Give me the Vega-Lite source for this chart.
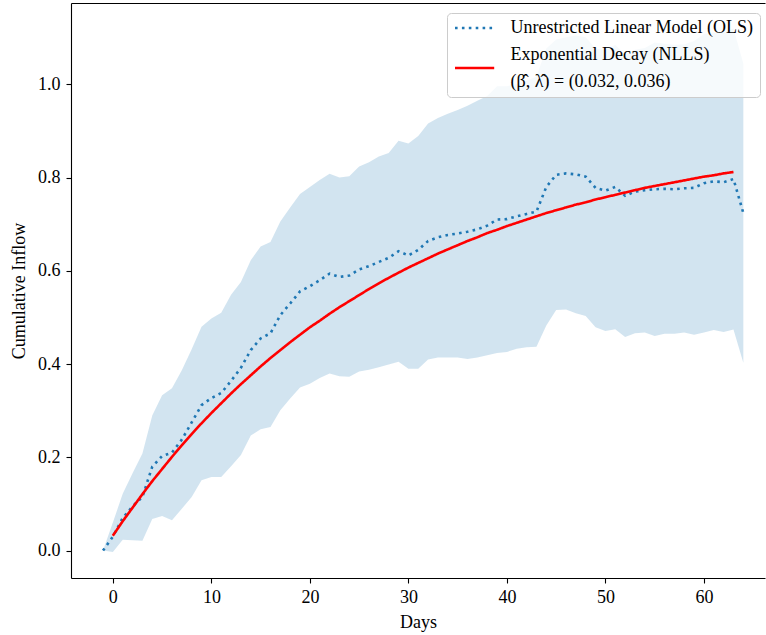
{
  "$schema": "https://vega.github.io/schema/vega-lite/v6.json",
  "width": 694,
  "height": 575,
  "autosize": {"type": "none"},
  "padding": {"left": 71, "top": 3, "right": 1, "bottom": 57},
  "config": {
    "font": "Liberation Serif",
    "view": {"stroke": null},
    "axis": {
      "grid": false,
      "domainColor": "#000000",
      "domainWidth": 1.1,
      "tickColor": "#000000",
      "tickWidth": 1.1,
      "tickSize": 5,
      "labelFont": "Liberation Serif",
      "labelFontSize": 18,
      "labelColor": "#000000",
      "titleFont": "Liberation Serif",
      "titleFontSize": 18,
      "titleFontWeight": "normal",
      "titleColor": "#000000"
    },
    "legend": {
      "labelFont": "Liberation Serif",
      "labelFontSize": 18,
      "labelColor": "#000000",
      "labelLimit": 400
    }
  },
  "data": {
    "values": [
      {"d": -1, "ols": 0.0, "lo": 0.0, "hi": 0.0, "exp": null},
      {"d": 0, "ols": 0.03, "lo": -0.003, "hi": 0.06, "exp": 0.032},
      {"d": 1, "ols": 0.07, "lo": 0.023, "hi": 0.122, "exp": 0.063},
      {"d": 2, "ols": 0.095, "lo": 0.022, "hi": 0.166, "exp": 0.092},
      {"d": 3, "ols": 0.115, "lo": 0.021, "hi": 0.208, "exp": 0.121},
      {"d": 4, "ols": 0.18, "lo": 0.068, "hi": 0.29, "exp": 0.149},
      {"d": 5, "ols": 0.203, "lo": 0.074, "hi": 0.333, "exp": 0.175},
      {"d": 6, "ols": 0.21, "lo": 0.065, "hi": 0.348, "exp": 0.201},
      {"d": 7, "ols": 0.238, "lo": 0.09, "hi": 0.387, "exp": 0.226},
      {"d": 8, "ols": 0.275, "lo": 0.115, "hi": 0.432, "exp": 0.25},
      {"d": 9, "ols": 0.312, "lo": 0.151, "hi": 0.48, "exp": 0.273},
      {"d": 10, "ols": 0.327, "lo": 0.158, "hi": 0.498, "exp": 0.295},
      {"d": 11, "ols": 0.338, "lo": 0.158, "hi": 0.51, "exp": 0.316},
      {"d": 12, "ols": 0.364, "lo": 0.181, "hi": 0.549, "exp": 0.337},
      {"d": 13, "ols": 0.392, "lo": 0.205, "hi": 0.576, "exp": 0.357},
      {"d": 14, "ols": 0.43, "lo": 0.247, "hi": 0.623, "exp": 0.376},
      {"d": 15, "ols": 0.455, "lo": 0.26, "hi": 0.652, "exp": 0.395},
      {"d": 16, "ols": 0.466, "lo": 0.265, "hi": 0.662, "exp": 0.413},
      {"d": 17, "ols": 0.505, "lo": 0.301, "hi": 0.706, "exp": 0.43},
      {"d": 18, "ols": 0.53, "lo": 0.326, "hi": 0.736, "exp": 0.447},
      {"d": 19, "ols": 0.556, "lo": 0.35, "hi": 0.765, "exp": 0.463},
      {"d": 20, "ols": 0.567, "lo": 0.358, "hi": 0.78, "exp": 0.479},
      {"d": 21, "ols": 0.58, "lo": 0.37, "hi": 0.795, "exp": 0.493},
      {"d": 22, "ols": 0.594, "lo": 0.38, "hi": 0.808, "exp": 0.508},
      {"d": 23, "ols": 0.587, "lo": 0.374, "hi": 0.8, "exp": 0.522},
      {"d": 24, "ols": 0.59, "lo": 0.373, "hi": 0.803, "exp": 0.535},
      {"d": 25, "ols": 0.603, "lo": 0.384, "hi": 0.824, "exp": 0.548},
      {"d": 26, "ols": 0.61, "lo": 0.388, "hi": 0.833, "exp": 0.561},
      {"d": 27, "ols": 0.619, "lo": 0.393, "hi": 0.845, "exp": 0.573},
      {"d": 28, "ols": 0.628, "lo": 0.399, "hi": 0.853, "exp": 0.585},
      {"d": 29, "ols": 0.642, "lo": 0.405, "hi": 0.879, "exp": 0.596},
      {"d": 30, "ols": 0.633, "lo": 0.39, "hi": 0.873, "exp": 0.607},
      {"d": 31, "ols": 0.645, "lo": 0.39, "hi": 0.889, "exp": 0.617},
      {"d": 32, "ols": 0.664, "lo": 0.41, "hi": 0.916, "exp": 0.627},
      {"d": 33, "ols": 0.672, "lo": 0.414, "hi": 0.928, "exp": 0.637},
      {"d": 34, "ols": 0.677, "lo": 0.414, "hi": 0.937, "exp": 0.646},
      {"d": 35, "ols": 0.68, "lo": 0.414, "hi": 0.945, "exp": 0.655},
      {"d": 36, "ols": 0.684, "lo": 0.411, "hi": 0.954, "exp": 0.664},
      {"d": 37, "ols": 0.689, "lo": 0.414, "hi": 0.965, "exp": 0.672},
      {"d": 38, "ols": 0.697, "lo": 0.419, "hi": 0.975, "exp": 0.681},
      {"d": 39, "ols": 0.71, "lo": 0.424, "hi": 0.996, "exp": 0.688},
      {"d": 40, "ols": 0.711, "lo": 0.426, "hi": 0.996, "exp": 0.696},
      {"d": 41, "ols": 0.717, "lo": 0.433, "hi": 1.001, "exp": 0.703},
      {"d": 42, "ols": 0.722, "lo": 0.436, "hi": 1.008, "exp": 0.71},
      {"d": 43, "ols": 0.727, "lo": 0.437, "hi": 1.017, "exp": 0.717},
      {"d": 44, "ols": 0.78, "lo": 0.483, "hi": 1.077, "exp": 0.724},
      {"d": 45, "ols": 0.806, "lo": 0.516, "hi": 1.096, "exp": 0.73},
      {"d": 46, "ols": 0.809, "lo": 0.517, "hi": 1.101, "exp": 0.736},
      {"d": 47, "ols": 0.807, "lo": 0.509, "hi": 1.105, "exp": 0.742},
      {"d": 48, "ols": 0.802, "lo": 0.503, "hi": 1.101, "exp": 0.747},
      {"d": 49, "ols": 0.778, "lo": 0.479, "hi": 1.077, "exp": 0.753},
      {"d": 50, "ols": 0.772, "lo": 0.471, "hi": 1.073, "exp": 0.758},
      {"d": 51, "ols": 0.78, "lo": 0.475, "hi": 1.085, "exp": 0.763},
      {"d": 52, "ols": 0.761, "lo": 0.458, "hi": 1.064, "exp": 0.768},
      {"d": 53, "ols": 0.77, "lo": 0.466, "hi": 1.074, "exp": 0.773},
      {"d": 54, "ols": 0.773, "lo": 0.468, "hi": 1.078, "exp": 0.778},
      {"d": 55, "ols": 0.775, "lo": 0.46, "hi": 1.09, "exp": 0.782},
      {"d": 56, "ols": 0.776, "lo": 0.465, "hi": 1.087, "exp": 0.786},
      {"d": 57, "ols": 0.775, "lo": 0.465, "hi": 1.085, "exp": 0.79},
      {"d": 58, "ols": 0.777, "lo": 0.468, "hi": 1.086, "exp": 0.794},
      {"d": 59, "ols": 0.778, "lo": 0.463, "hi": 1.093, "exp": 0.798},
      {"d": 60, "ols": 0.788, "lo": 0.468, "hi": 1.108, "exp": 0.802},
      {"d": 61, "ols": 0.792, "lo": 0.473, "hi": 1.111, "exp": 0.805},
      {"d": 62, "ols": 0.79, "lo": 0.469, "hi": 1.111, "exp": 0.809},
      {"d": 63, "ols": 0.797, "lo": 0.474, "hi": 1.12, "exp": 0.812},
      {"d": 64, "ols": 0.724, "lo": 0.403, "hi": 1.045, "exp": null}
    ]
  },
  "resolve": {"axis": {"x": "independent"}},
  "layer": [
    {
      "mark": {"type": "area", "color": "#1f77b4", "opacity": 0.2},
      "encoding": {
        "x": {
          "field": "d",
          "type": "quantitative",
          "scale": {"domain": [-4.25, 66.2], "nice": false, "zero": false},
          "axis": {"values": [0, 10, 20, 30, 40, 50, 60], "title": "Days", "labelPadding": 5, "titlePadding": 7}
        },
        "y": {
          "field": "lo",
          "type": "quantitative",
          "scale": {"domain": [-0.0588, 1.1745], "nice": false, "zero": false},
          "axis": {"values": [0, 0.2, 0.4, 0.6, 0.8, 1.0], "format": ".1f", "title": "Cumulative Inflow", "labelPadding": 6, "titlePadding": 9}
        },
        "y2": {"field": "hi"}
      }
    },
    {
      "mark": {"type": "line", "strokeWidth": 2.6, "strokeCap": "butt"},
      "encoding": {
        "x": {"field": "d", "type": "quantitative", "axis": null},
        "y": {"field": "ols", "type": "quantitative"},
        "color": {
          "datum": "OLS",
          "type": "nominal",
          "scale": {"domain": ["OLS", "NLLS"], "range": ["#1f77b4", "#ff0000"]},
          "legend": {
            "title": null,
            "orient": "none",
            "legendX": 376,
            "legendY": 10,
            "symbolType": "M-2.8,0H2.8",
            "symbolSize": 196,
            "symbolStrokeWidth": 2.6,
            "symbolOffset": 12.6,
            "labelOffset": 27,
            "fillColor": "rgba(255,255,255,0.8)",
            "strokeColor": "#cccccc",
            "cornerRadius": 4,
            "padding": 6,
            "rowPadding": 8,
            "labelExpr": "datum.value == 'NLLS' ? ['Exponential Decay (NLLS)', '(β̂, λ̂) = (0.032, 0.036)'] : 'Unrestricted Linear Model (OLS)'",
            "encode": {"labels": {"update": {"lineHeight": {"value": 27}, "dy": {"signal": "datum.value == 'NLLS' ? -13.5 : 0"}}}}
          }
        },
        "strokeDash": {
          "datum": "OLS",
          "type": "nominal",
          "scale": {"domain": ["OLS", "NLLS"], "range": [[2.6, 4.3], [1, 0]]},
          "legend": {"title": null}
        }
      }
    },
    {
      "mark": {"type": "line", "strokeWidth": 2.6},
      "encoding": {
        "x": {"field": "d", "type": "quantitative", "axis": null},
        "y": {"field": "exp", "type": "quantitative"},
        "color": {"datum": "NLLS", "type": "nominal"},
        "strokeDash": {"datum": "NLLS", "type": "nominal"}
      }
    },
    {
      "mark": {"type": "point", "opacity": 0},
      "encoding": {
        "x": {"field": "d", "type": "quantitative", "axis": {"orient": "top", "labels": false, "ticks": false, "title": null}}
      }
    }
  ]
}
